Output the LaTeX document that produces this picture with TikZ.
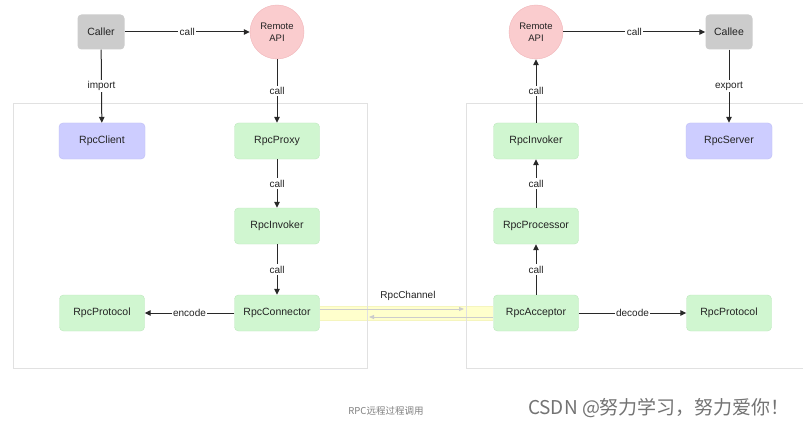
\documentclass[tikz,border=0pt]{standalone}
\usepackage{fontspec}
\setmainfont{Liberation Sans}
\newfontfamily\cjk{Noto Sans CJK SC}
\usetikzlibrary{arrows.meta}
\definecolor{grayfill}{RGB}{204,204,204}
\definecolor{pinkfill}{RGB}{250,204,206}
\definecolor{pinkdraw}{RGB}{240,180,184}
\definecolor{greenfill}{RGB}{208,246,208}
\definecolor{greendraw}{RGB}{190,232,190}
\definecolor{purplefill}{RGB}{205,205,255}
\definecolor{purpledraw}{RGB}{190,190,245}
\definecolor{panelline}{RGB}{225,225,225}
\definecolor{bandfill}{RGB}{255,255,204}
\definecolor{banddraw}{RGB}{245,245,190}
\definecolor{linecol}{RGB}{40,40,40}
\definecolor{txt}{RGB}{35,35,35}
\begin{document}
\begin{tikzpicture}[x=1pt,y=-1pt,
  gbox/.style={rounded corners=4pt, fill=greenfill, draw=greendraw, minimum width=85pt, minimum height=36pt, font=\fontsize{10.5}{12}\selectfont, text=txt},
  pbox/.style={rounded corners=4pt, fill=purplefill, draw=purpledraw, minimum width=86pt, minimum height=36pt, font=\fontsize{10.5}{12}\selectfont, text=txt},
  graybox/.style={rounded corners=4pt, fill=grayfill, draw=none, minimum width=47pt, minimum height=35pt, font=\fontsize{10.5}{12}\selectfont, text=txt},
  api/.style={circle, fill=pinkfill, draw=pinkdraw, minimum size=54pt, inner sep=0pt, align=center, font=\fontsize{9.5}{11.5}\selectfont, text=txt},
  conn/.style={draw=linecol, line width=1pt, -{Triangle[length=6pt,width=5.5pt]}},
  lbl/.style={fill=white, inner sep=1.5pt, font=\fontsize{10}{12}\selectfont, text=txt},
  panel/.style={draw=panelline, line width=1pt},
  faint/.style={draw=black!20, line width=0.8pt, -{Triangle[length=5pt,width=4pt]}}
]
\useasboundingbox[fill=white] (0,0) rectangle (803,425);

% channel band
\coordinate (bandTL) at (320,306);
\coordinate (bandBR) at (493,320);
\fill[bandfill] (bandTL) rectangle (bandBR);
\draw[banddraw, line width=0.5pt] (bandTL) -- (493,306);
\draw[banddraw, line width=0.5pt] (320,320) -- (bandBR);

% panels
\draw[panel] (13,104) rectangle (367,368);
\draw[panel] (803,104) -- (466,104) -- (466,368) -- (803,368);

% left side
\node[graybox] (caller) at (101,32) {Caller};
\node[api] (apiL) at (277,32) {Remote\\API};
\node[pbox] (client) at (102,141) {RpcClient};
\node[gbox] (proxy) at (277,141) {RpcProxy};
\node[gbox] (invL) at (277,226) {RpcInvoker};
\node[gbox] (connector) at (277,313) {RpcConnector};
\node[gbox] (protoL) at (102,313) {RpcProtocol};

% right side
\node[api] (apiR) at (536,32) {Remote\\API};
\node[graybox] (callee) at (729,32) {Callee};
\node[gbox] (invR) at (536,141) {RpcInvoker};
\node[pbox] (server) at (729,141) {RpcServer};
\node[gbox] (proc) at (536,226) {RpcProcessor};
\node[gbox] (acc) at (536,313) {RpcAcceptor};
\node[gbox] (protoR) at (729,313) {RpcProtocol};

% connectors left
\draw[conn] (caller) -- node[lbl] {call} (apiL);
\draw[conn] (caller) -- node[lbl] {import} (client);
\draw[conn] (apiL) -- node[lbl] {call} (proxy);
\draw[conn] (proxy) -- node[lbl] {call} (invL);
\draw[conn] (invL) -- node[lbl] {call} (connector);
\draw[conn] (connector) -- node[lbl] {encode} (protoL);

% connectors right
\draw[conn] (apiR) -- node[lbl] {call} (callee);
\draw[conn] (callee) -- node[lbl] {export} (server);
\draw[conn] (invR) -- node[lbl] {call} (apiR);
\draw[conn] (proc) -- node[lbl] {call} (invR);
\draw[conn] (acc) -- node[lbl] {call} (proc);
\draw[conn] (acc) -- node[lbl] {decode} (protoR);

% channel arrows
\coordinate (chRight) at (464,309);
\coordinate (chLeft) at (369,317);
\draw[faint] ([yshift=4pt]connector.east) -- (chRight);
\draw[faint] ([yshift=-4pt]acc.west) -- (chLeft);
\node[font=\fontsize{10}{12}\selectfont, text=txt] (chan) at (408,296) {RpcChannel};

% captions
\node[font=\fontsize{9.5}{11}\cjk, text=black!50] (cap) at (386,411) {RPC远程过程调用};
\node[font=\fontsize{19}{21}\cjk, text=black!55] (wm) at (659,408) {CSDN @努力学习，努力爱你！};
\end{tikzpicture}
\end{document}
